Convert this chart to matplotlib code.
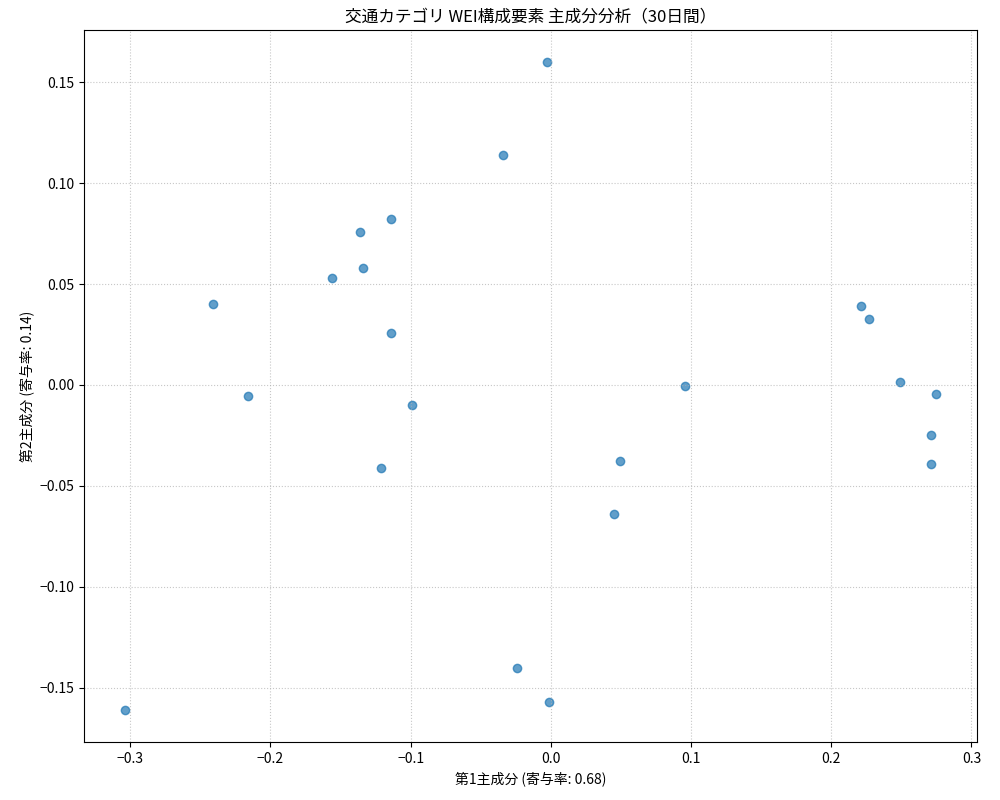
import matplotlib
matplotlib.use("Agg")
import matplotlib.pyplot as plt

plt.rcParams['font.family'] = ['Noto Sans CJK JP', 'DejaVu Sans']
plt.rcParams['axes.unicode_minus'] = True

pc1 = [-0.003, -0.034, -0.114, -0.136, -0.134, -0.156, -0.241, -0.114, -0.216, -0.099,
       -0.121, 0.049, 0.045, 0.096, 0.221, 0.227, 0.249, 0.275, 0.271, 0.271,
       -0.024, -0.001, -0.304]
pc2 = [0.160, 0.114, 0.082, 0.076, 0.058, 0.053, 0.040, 0.026, -0.0055, -0.010,
       -0.041, -0.0376, -0.064, -0.0005, 0.039, 0.0326, 0.0015, -0.0045, -0.025, -0.039,
       -0.140, -0.157, -0.161]

fig, ax = plt.subplots(figsize=(10, 8), dpi=100)
fig.subplots_adjust(left=0.084, right=0.977, top=0.963, bottom=0.072)
ax.scatter(pc1, pc2, alpha=0.7, color='#1f77b4')
ax.set_xlabel('第1主成分 (寄与率: 0.68)')
ax.set_ylabel('第2主成分 (寄与率: 0.14)')
ax.set_title('交通カテゴリ WEI構成要素 主成分分析（30日間）')
ax.grid(True, linestyle=':', alpha=0.7)
fig.savefig('out.png')
